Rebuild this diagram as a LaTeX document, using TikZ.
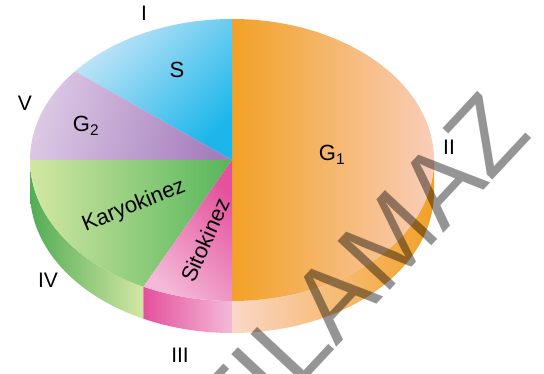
\documentclass[tikz,border=0pt]{standalone}
\usepackage{fontspec}
\setmainfont{Liberation Sans}
\usetikzlibrary{calc}

\definecolor{gOneDeep}{HTML}{F2A126}
\definecolor{gOnePale}{HTML}{F9CDB9}
\definecolor{sDeep}{HTML}{1CB6EA}
\definecolor{sPale}{HTML}{C4E5F7}
\definecolor{gTwoDeep}{HTML}{A57EBD}
\definecolor{gTwoPale}{HTML}{DCC8E5}
\definecolor{karyoDeep}{HTML}{56B55A}
\definecolor{karyoPale}{HTML}{D3E7A3}
\definecolor{sitoDeep}{HTML}{E4519C}
\definecolor{sitoPale}{HTML}{F4B9D8}
\definecolor{markGray}{HTML}{959595}

\begin{document}
\begin{tikzpicture}[x=1pt,y=1pt,
  phase/.style={font=\fontsize{22}{22}\selectfont,inner sep=0pt},
  numeral/.style={font=\fontsize{21}{21}\selectfont,inner sep=0pt},
  watermark/.style={font=\fontsize{104}{104}\selectfont,text=markGray,inner sep=0pt,blend mode=multiply}]
\useasboundingbox (0,0) rectangle (544,374);
\coordinate (c) at (232,214);
\def\rx{202}
\def\ry{141}
\def\dep{32}

% rim of the disc
\shade[left color=karyoDeep!95!black,right color=karyoPale] ($(c)+(180:{\rx} and {\ry})$) arc[start angle=180,end angle=244,x radius=\rx,y radius=\ry] -- ++(0,-\dep) arc[start angle=244,end angle=180,x radius=\rx,y radius=\ry] -- cycle;
\shade[left color=sitoDeep,right color=sitoPale] ($(c)+(244:{\rx} and {\ry})$) arc[start angle=244,end angle=270,x radius=\rx,y radius=\ry] -- ++(0,-\dep) arc[start angle=270,end angle=244,x radius=\rx,y radius=\ry] -- cycle;
\shade[left color=gOnePale!80!white,right color=gOneDeep] ($(c)+(270:{\rx} and {\ry})$) arc[start angle=270,end angle=360,x radius=\rx,y radius=\ry] -- ++(0,-\dep) arc[start angle=360,end angle=270,x radius=\rx,y radius=\ry] -- cycle;

% top of the disc
\shade[left color=gOneDeep,right color=gOnePale] (c) -- ($(c)+(-90:{\rx} and {\ry})$) arc[start angle=-90,end angle=90,x radius=\rx,y radius=\ry] -- cycle;
\shade[left color=sPale,right color=sDeep,shading angle=45] (c) -- ($(c)+(90:{\rx} and {\ry})$) arc[start angle=90,end angle=141,x radius=\rx,y radius=\ry] -- cycle;
\shade[left color=gTwoPale,right color=gTwoDeep,shading angle=75] (c) -- ($(c)+(141:{\rx} and {\ry})$) arc[start angle=141,end angle=180,x radius=\rx,y radius=\ry] -- cycle;
\shade[left color=karyoPale,right color=karyoDeep] (c) -- ($(c)+(180:{\rx} and {\ry})$) arc[start angle=180,end angle=244,x radius=\rx,y radius=\ry] -- cycle;
\shade[left color=sitoPale,right color=sitoDeep,shading angle=135] (c) -- ($(c)+(244:{\rx} and {\ry})$) arc[start angle=244,end angle=270,x radius=\rx,y radius=\ry] -- cycle;

% phase names
\node[phase] (gone) at (332,219) {G\textsubscript{1}};
\node[phase] (sphase) at (177,304) {S};
\node[phase] (gtwo) at (86,248) {G\textsubscript{2}};
\node[phase,rotate=22] (karyo) at (134,168) {Karyokinez};
\node[phase,rotate=66] (sito) at (205,134) {Sitokinez};

% numerals
\node[numeral] (one) at (144,361) {I};
\node[numeral] (two) at (449,227) {II};
\node[numeral] (three) at (180,19) {III};
\node[numeral] (four) at (48,94) {IV};
\node[numeral] (five) at (25,271) {V};

\node[watermark,rotate=47,anchor=base east] (stamp) at (534,238) {SATILAMAZ};
\end{tikzpicture}
\end{document}
